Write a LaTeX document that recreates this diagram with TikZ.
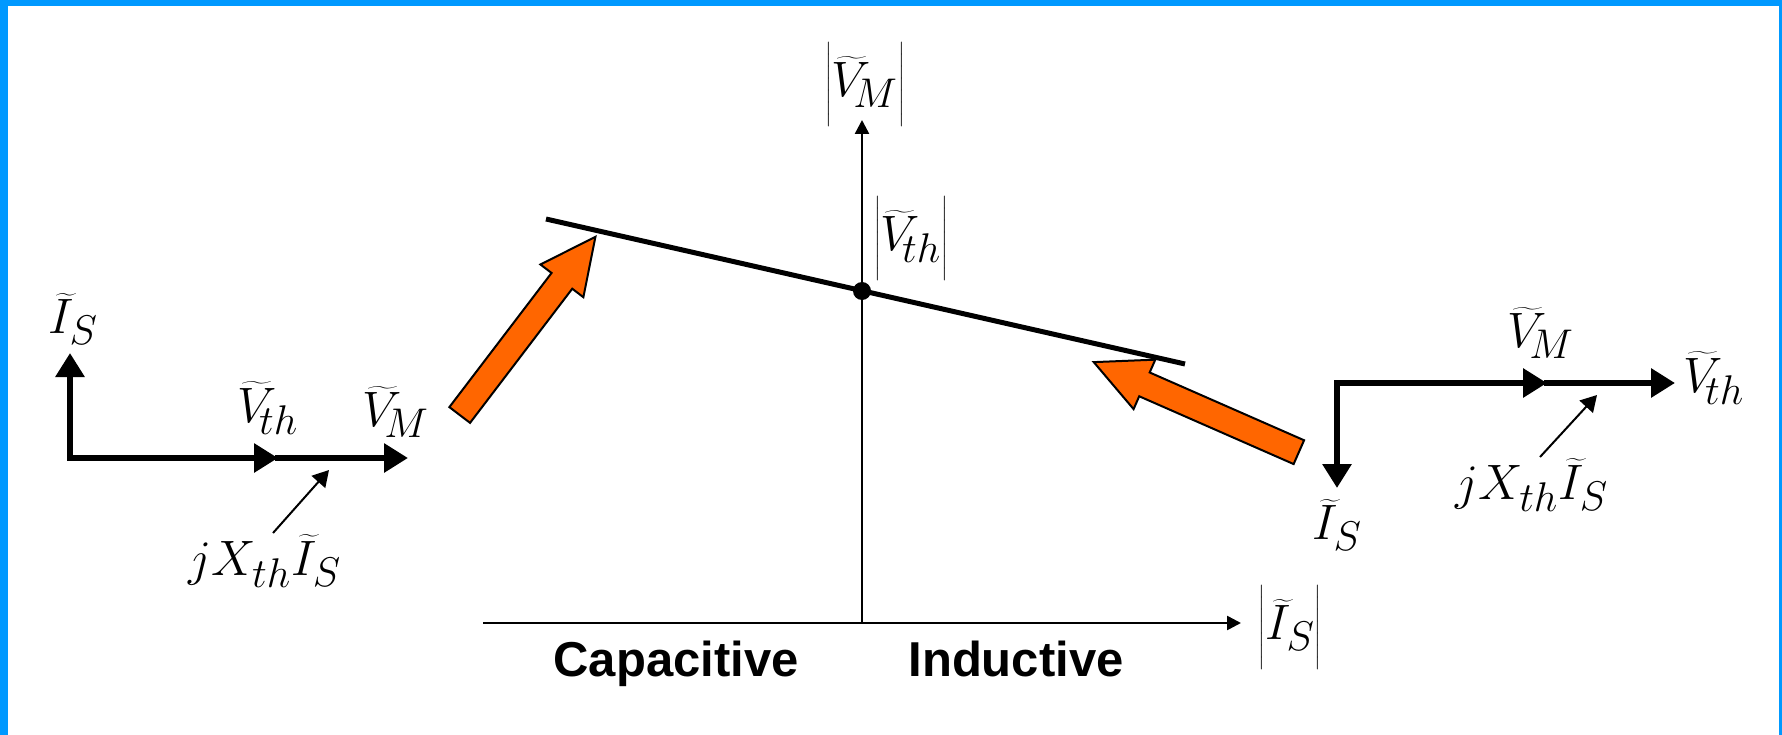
\documentclass[tikz,border=0pt]{standalone}
\usepackage{fontspec}
\setmainfont{Liberation Sans}
\usetikzlibrary{arrows.meta,shapes.arrows}
\definecolor{frameblue}{HTML}{0099FF}
\definecolor{loadorange}{HTML}{FF6600}
\newcommand{\Vph}[1]{\widetilde{V}_{\!#1}}
\newcommand{\Iph}{\widetilde{I}_{S}}
\newcommand{\absval}[1]{\left|\rule{0pt}{1.1em}#1\right|}

\begin{document}
\begin{tikzpicture}[x=1pt, y=-1pt,
  every node/.style={inner sep=0pt},
  mathlab/.style={font=\fontsize{24.88}{30}\selectfont, scale=2},
  axis/.style={line width=2.5pt, -{Triangle[length=14pt,width=14pt]}},
  phasor/.style={line width=6pt, line cap=rect, -{Triangle[length=24pt,width=28pt]}},
  drop/.style={line width=2pt, -{Triangle[length=16pt,width=18pt]}},
  movearrow/.style={single arrow, draw=black, line width=2pt, fill=loadorange,
    inner sep=12pt, single arrow head extend=14pt, single arrow tip angle=52,
    minimum height=224pt},
  region/.style={font=\fontsize{49}{58}\selectfont\bfseries, anchor=base}]
  % frame
  \fill[frameblue] (0,0) rectangle (1782,735);
  \fill[white] (8,6) rectangle (1779,735);
  \useasboundingbox (0,0) rectangle (1782,735);
  % axes
  \coordinate (org) at (862,623);
  \coordinate (vtop) at (862,120);
  \coordinate (hleft) at (483,623);
  \coordinate (hright) at (1241,623);
  \draw[axis] (org) -- (vtop);
  \draw[axis] (hleft) -- (hright);
  \node[mathlab] (vmabs) at (865,84) {$\absval{\Vph{M}}$};
  \node[mathlab] (isabs) at (1290,627) {$\absval{\Iph}$};
  \node[region] (cap) at (676,676) {Capacitive};
  \node[region] (ind) at (1016,676) {Inductive};
  % characteristic
  \coordinate (lineL) at (546,219);
  \coordinate (lineR) at (1185,364);
  \draw[line width=5pt] (lineL) -- (lineR);
  \node[circle, fill, minimum size=18pt] (vthpt) at (862,291) {};
  \node[mathlab] (vthabs) at (911,238) {$\absval{\Vph{th}}$};
  % moving arrows
  \node[movearrow, rotate=52.7] (capmove) at (519.5,336.5) {};
  \node[movearrow, rotate=156.3] (indmove) at (1208.5,412.5) {};
  % left phasors (capacitive)
  \coordinate (lo) at (70,458);
  \coordinate (lis) at (70,353);
  \coordinate (lvth) at (278,458);
  \coordinate (lvm) at (408,458);
  \coordinate (ljx) at (273,533);
  \coordinate (ljxtip) at (329,470);
  \draw[phasor] (lo) -- (lis);
  \draw[phasor] (lo) -- (lvth);
  \draw[phasor] (lvth) -- (lvm);
  \draw[drop] (ljx) -- (ljxtip);
  \node[mathlab] (lislab) at (73,319) {$\Iph$};
  \node[mathlab] (lvthlab) at (268,408) {$\Vph{th}$};
  \node[mathlab] (lvmlab) at (396,412) {$\Vph{M}$};
  \node[mathlab] (ljxlab) at (265,561) {$jX_{th}\Iph$};
  % right phasors (inductive)
  \coordinate (ro) at (1337,383);
  \coordinate (ris) at (1337,488);
  \coordinate (rvm) at (1547,383);
  \coordinate (rvth) at (1675,383);
  \coordinate (rjx) at (1540,457);
  \coordinate (rjxtip) at (1597,395);
  \draw[phasor] (ro) -- (ris);
  \draw[phasor] (ro) -- (rvm);
  \draw[phasor] (rvm) -- (rvth);
  \draw[drop] (rjx) -- (rjxtip);
  \node[mathlab] (rvmlab) at (1541,333) {$\Vph{M}$};
  \node[mathlab] (rvthlab) at (1714,378) {$\Vph{th}$};
  \node[mathlab] (rislab) at (1337,525) {$\Iph$};
  \node[mathlab] (rjxlab) at (1532,485) {$jX_{th}\Iph$};
\end{tikzpicture}
\end{document}
